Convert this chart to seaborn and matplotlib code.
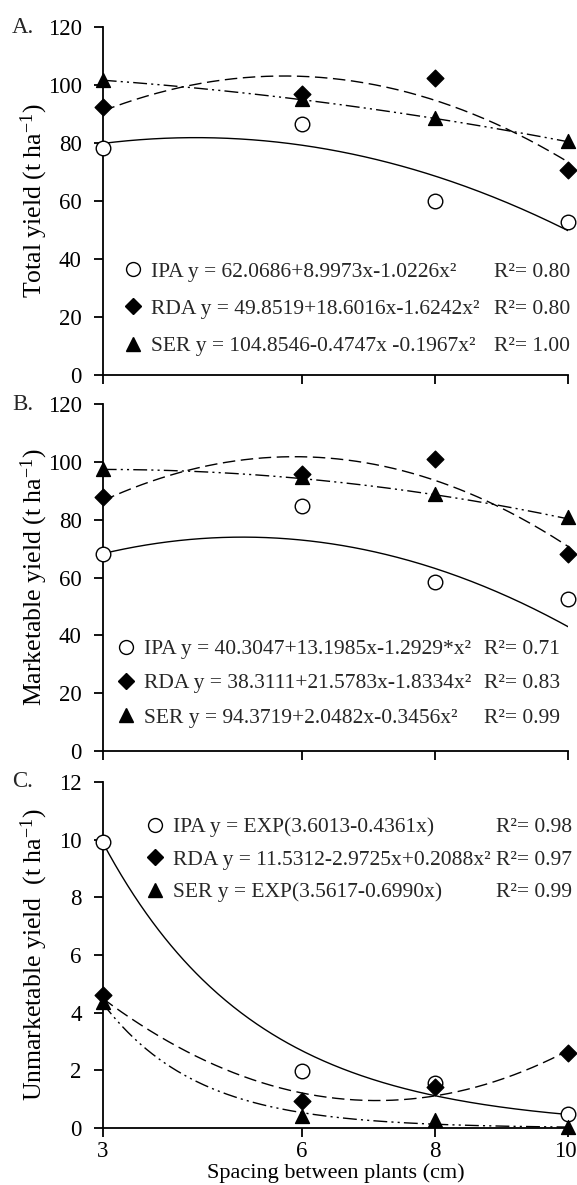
import numpy as np
import matplotlib
matplotlib.use("Agg")
import matplotlib.pyplot as plt
import matplotlib.transforms as mtransforms
import seaborn as sns
from matplotlib.lines import Line2D

# ---------------- data ----------------
spacing = [3, 6, 8, 10]
xticks = [3, 6, 8, 10]

total_ipa = [78.2, 86.5, 60.0, 52.9]
total_rda = [92.5, 96.8, 102.4, 70.7]
total_ser = [101.9, 95.3, 88.7, 80.7]

market_ipa = [68.2, 84.6, 58.3, 52.6]
market_rda = [88.0, 95.8, 101.0, 68.0]
market_ser = [97.6, 94.9, 88.8, 80.8]

unmarket_ipa = [9.93, 1.98, 1.57, 0.49]
unmarket_rda = [4.60, 0.95, 1.43, 2.59]
unmarket_ser = [4.37, 0.42, 0.29, 0.05]

# regression coefficients as printed in the chart
total_fit_ipa = [62.0686, 8.9973, -1.0226]
total_fit_rda = [49.8519, 18.6016, -1.6242]
total_fit_ser = [104.8546, -0.4747, -0.1967]
market_fit_ipa = [40.3047, 13.1985, -1.2929]
market_fit_rda = [38.3111, 21.5783, -1.8334]
market_fit_ser = [94.3719, 2.0482, -0.3456]
unmarket_fit_ipa = [3.6013, -0.4361]            # EXP(a+bx)
unmarket_fit_rda = [11.5312, -2.9725, 0.2088]   # quadratic
unmarket_fit_ser = [3.5617, -0.6990]            # EXP(a+bx)

total_eq = ["IPA y = 62.0686+8.9973x-1.0226x²",
            "RDA y = 49.8519+18.6016x-1.6242x²",
            "SER y = 104.8546-0.4747x -0.1967x²"]
total_r2 = ["R²= 0.80", "R²= 0.80", "R²= 1.00"]
market_eq = ["IPA y = 40.3047+13.1985x-1.2929*x²",
             "RDA y = 38.3111+21.5783x-1.8334x²",
             "SER y = 94.3719+2.0482x-0.3456x²"]
market_r2 = ["R²= 0.71", "R²= 0.83", "R²= 0.99"]
unmarket_eq = ["IPA y = EXP(3.6013-0.4361x)",
               "RDA y = 11.5312-2.9725x+0.2088x²",
               "SER y = EXP(3.5617-0.6990x)"]
unmarket_r2 = ["R²= 0.98", "R²= 0.97", "R²= 0.99"]

# ---------------- style ----------------
sns.set_theme(style="ticks")
plt.rcParams["font.family"] = ["Liberation Serif", "DejaVu Serif"]
plt.rcParams["mathtext.fontset"] = "custom"
plt.rcParams["mathtext.rm"] = "Liberation Serif"
plt.rcParams["mathtext.it"] = "Liberation Serif:italic"
plt.rcParams["mathtext.bf"] = "Liberation Serif:bold"
FS_TICK = 16.5
FS_YLAB = 18.5
FS_LEG = 15.5

fig = plt.figure(figsize=(5.77, 11.85), dpi=100)
L, W = 0.178, 0.8066
axA = fig.add_axes([L, 0.6835, W, 0.2937])
axB = fig.add_axes([L, 0.3662, W, 0.2928])
axC = fig.add_axes([L, 0.0481, W, 0.2920])

xs = np.linspace(3, 10, 300)

def quad(c):
    return c[0] + c[1] * xs + c[2] * xs ** 2

def expo(c):
    return np.exp(c[0] + c[1] * xs)

styles = {
    "IPA": dict(ls="-", marker="o", face="white", s=110),
    "RDA": dict(ls=(0, (9, 4)), marker="D", face="black", s=72),
    "SER": dict(ls=(0, (10, 3, 1.5, 3, 1.5, 3)), marker="^", face="black", s=100),
}

def panel(ax, pts, fits, eqs, r2s, ylim, yticks, ylabel, tag, leg_anchor, lspace, colsp):
    for name, f in zip(["IPA", "RDA", "SER"], fits):
        st = styles[name]
        sns.lineplot(x=xs, y=f, ax=ax, color="black", linewidth=1.0,
                     linestyle=st["ls"], zorder=2)
    for name, y in zip(["IPA", "SER", "RDA"], [pts[0], pts[2], pts[1]]):
        st = styles[name]
        sns.scatterplot(x=spacing, y=y, ax=ax, marker=st["marker"], s=st["s"],
                        color=st["face"], edgecolor="black", linewidth=1.0,
                        clip_on=False, zorder=4)
    ax.set_xlim(3, 10)
    ax.set_ylim(*ylim)
    ax.set_xticks(xticks)
    ax.set_yticks(yticks)
    for sp in ["top", "right"]:
        ax.spines[sp].set_visible(False)
    for sp in ["left", "bottom"]:
        ax.spines[sp].set_linewidth(1.3)
        ax.spines[sp].set_color("black")
    ax.tick_params(direction="out", length=6.5, width=1.3, labelsize=FS_TICK, colors="black")
    ax.tick_params(axis="y", pad=8.5)
    ax.tick_params(axis="x", pad=3)
    ax.set_ylabel(ylabel, fontsize=FS_YLAB, color="black")
    ax.yaxis.set_label_coords(-0.113, 0.5)
    ax.text(-0.195, 1.0, tag, transform=ax.transAxes, fontsize=FS_TICK, ha="left", va="center")
    handles = [Line2D([], [], ls="none", marker="o", mfc="white", mec="black", ms=10, mew=1.0),
               Line2D([], [], ls="none", marker="D", mfc="black", mec="black", ms=8.5),
               Line2D([], [], ls="none", marker="^", mfc="black", mec="black", ms=10)]
    blanks = [Line2D([], [], ls="none") for _ in range(3)]
    ax.legend(handles + blanks, list(eqs) + list(r2s), ncol=2, loc="upper left",
              bbox_to_anchor=leg_anchor, frameon=False, borderpad=0, borderaxespad=0,
              handlelength=0.8, handletextpad=0.45, columnspacing=colsp,
              labelspacing=lspace, fontsize=FS_LEG)

panel(axA, [total_ipa, total_rda, total_ser],
      [quad(total_fit_ipa), quad(total_fit_rda), quad(total_fit_ser)],
      total_eq, total_r2, (0, 120), [0, 20, 40, 60, 80, 100, 120],
      "Total yield (t ha$^{-1}$)", "A.", (0.046, 0.326), 0.8, -0.6)
panel(axB, [market_ipa, market_rda, market_ser],
      [quad(market_fit_ipa), quad(market_fit_rda), quad(market_fit_ser)],
      market_eq, market_r2, (0, 120), [0, 20, 40, 60, 80, 100, 120],
      "Marketable yield (t ha$^{-1}$)", "B.", (0.031, 0.323), 0.66, -0.65)
panel(axC, [unmarket_ipa, unmarket_rda, unmarket_ser],
      [expo(unmarket_fit_ipa), quad(unmarket_fit_rda), expo(unmarket_fit_ser)],
      unmarket_eq, unmarket_r2, (0, 12), [0, 2, 4, 6, 8, 10, 12],
      "Unmarketable yield  (t ha$^{-1}$)", "C.", (0.093, 0.898), 0.58, -0.98)

axA.set_xticklabels([])
axB.set_xticklabels([])
axA.set_xlabel("")
axB.set_xlabel("")
axC.set_xlabel("Spacing between plants (cm)", fontsize=16, color="black", labelpad=1)

# keep the last x tick label inside the figure
last = axC.get_xticklabels()[-1]
last.set_horizontalalignment("right")
last.set_transform(last.get_transform() +
                   mtransforms.ScaledTranslation(0.085, 0, fig.dpi_scale_trans))

fig.savefig("out.png", dpi=100)
